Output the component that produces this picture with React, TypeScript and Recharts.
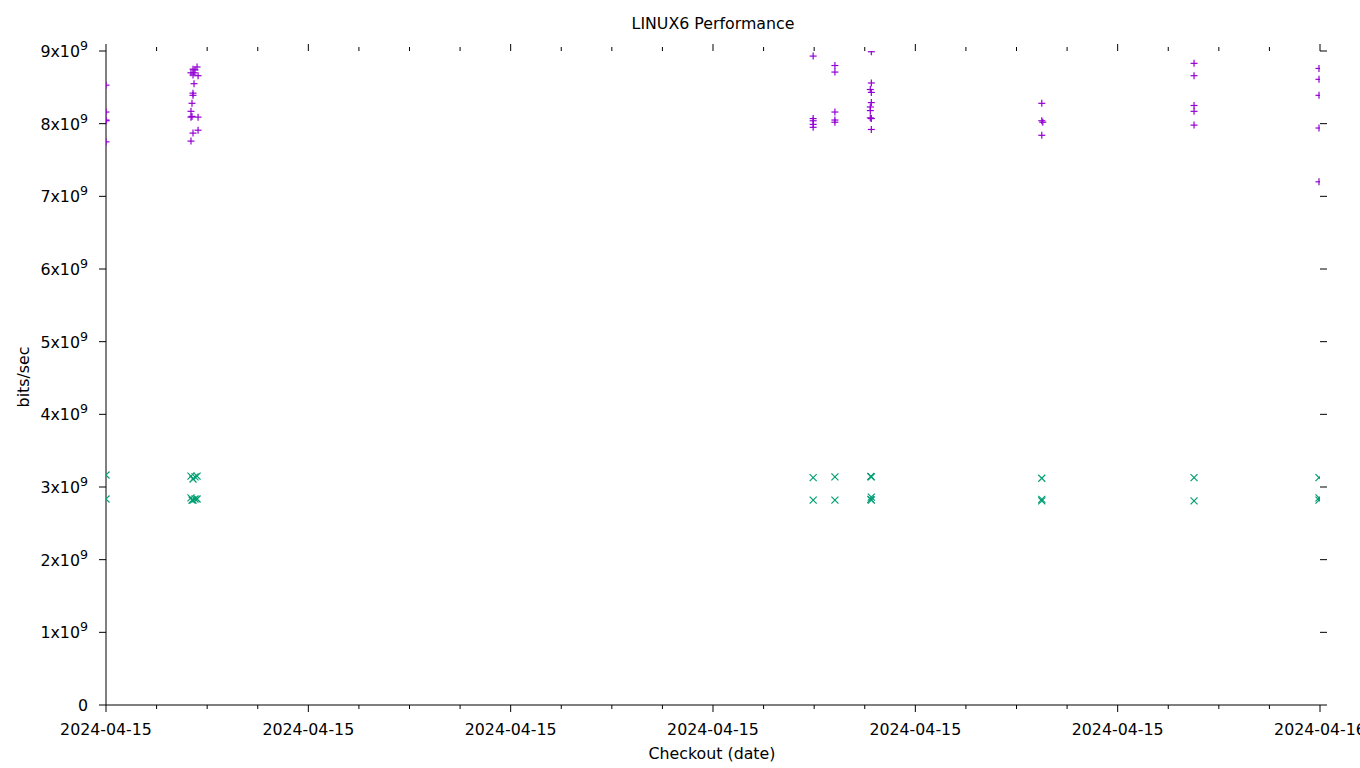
import React from "react";
import { ScatterChart, Scatter, XAxis, YAxis } from "recharts";

// hours after 2024-04-15 00:00
const hourTicks = [0, 1, 2, 3, 4, 5, 6, 7, 8, 9, 10, 11, 12, 13, 14, 15, 16, 17, 18, 19, 20, 21, 22, 23, 24];
const dateLabels: Record<number, string> = {
  0: "2024-04-15",
  4: "2024-04-15",
  8: "2024-04-15",
  12: "2024-04-15",
  16: "2024-04-15",
  20: "2024-04-15",
  24: "2024-04-16",
};
const rateTicks = [0, 1e9, 2e9, 3e9, 4e9, 5e9, 6e9, 7e9, 8e9, 9e9];

// "+" series (x10^9 bits/sec)
const plusHours = [
  0, 0, 0, 0, 0,
  1.8, 1.72, 1.76, 1.68, 1.74, 1.72, 1.82, 1.74, 1.72, 1.72, 1.7, 1.68, 1.68, 1.7, 1.82, 1.82, 1.72, 1.68,
  13.98, 13.98, 13.98, 13.98, 13.98,
  14.41, 14.41, 14.41, 14.41, 14.41,
  15.13, 15.13, 15.11, 15.13, 15.13, 15.11, 15.11, 15.11, 15.13, 15.13,
  18.5, 18.5, 18.52, 18.5,
  21.51, 21.51, 21.51, 21.51, 21.51,
  23.98, 23.98, 23.98, 23.98, 23.98,
];
const plusValues = [
  8.53, 8.16, 8.05, 8.04, 7.75,
  8.78, 8.75, 8.74, 8.7, 8.7, 8.67, 8.66, 8.55, 8.42, 8.39, 8.28, 8.17, 8.09, 8.1, 8.09, 7.91, 7.87, 7.76,
  8.93, 8.07, 8.04, 7.99, 7.95,
  8.8, 8.71, 8.16, 8.05, 8.02,
  8.99, 8.56, 8.47, 8.43, 8.29, 8.23, 8.18, 8.08, 8.07, 7.92,
  8.28, 8.04, 8.02, 7.84,
  8.83, 8.66, 8.25, 8.17, 7.98,
  8.76, 8.61, 8.39, 7.94, 7.2,
];

// "x" series (x10^9 bits/sec)
const crossHours = [
  0, 0,
  1.68, 1.72, 1.76, 1.8, 1.68, 1.72, 1.76, 1.8, 1.7,
  13.98, 13.98,
  14.41, 14.41,
  15.13, 15.12, 15.13, 15.12, 15.13,
  18.5, 18.5, 18.5,
  21.51, 21.51,
  23.98, 23.98, 23.98,
];
const crossValues = [
  3.165, 2.835,
  3.15, 3.11, 3.14, 3.15, 2.85, 2.82, 2.835, 2.835, 2.82,
  3.13, 2.82,
  3.14, 2.82,
  3.14, 3.145, 2.82, 2.83, 2.86,
  3.12, 2.81, 2.83,
  3.13, 2.81,
  3.13, 2.82, 2.85,
];

const plusData = plusHours.map((h, i) => ({ x: h, y: plusValues[i] * 1e9 }));
const crossData = crossHours.map((h, i) => ({ x: h, y: crossValues[i] * 1e9 }));

const FONT = "'DejaVu Sans', sans-serif";
const FS = 15.8;

const W = 1360;
const H = 768;
const MARGIN = { top: 51, right: 30, bottom: 33, left: 46 };
const X_AXIS_H = 30;
const PLOT_H = H - MARGIN.top - MARGIN.bottom - X_AXIS_H;

const PlusMark = (p: any) => (
  <g stroke="#9400d3" strokeWidth={1.2}>
    <line x1={p.cx - 3.5} x2={p.cx + 3.5} y1={p.cy} y2={p.cy} />
    <line x1={p.cx} x2={p.cx} y1={p.cy - 3.5} y2={p.cy + 3.5} />
  </g>
);

const CrossMark = (p: any) => (
  <g stroke="#009e73" strokeWidth={1.2}>
    <line x1={p.cx - 3.5} x2={p.cx + 3.5} y1={p.cy - 3.5} y2={p.cy + 3.5} />
    <line x1={p.cx - 3.5} x2={p.cx + 3.5} y1={p.cy + 3.5} y2={p.cy - 3.5} />
  </g>
);

// bottom ticks, plus the mirrored ticks along the (borderless) top edge
const BottomTick = ({ x, y, payload }: any) => {
  const major = payload.value % 4 === 0;
  const len = major ? 7 : 4;
  const top = y - PLOT_H;
  return (
    <g>
      <line x1={x} x2={x} y1={y} y2={y + len} stroke="#000" />
      <line x1={x} x2={x} y1={top} y2={top - len} stroke="#000" />
      {major && (
        <text x={x} y={y + 30} textAnchor="middle" fontFamily={FONT} fontSize={FS} fill="#000">
          {dateLabels[payload.value]}
        </text>
      )}
    </g>
  );
};

const LeftTick = ({ x, y, payload }: any) => {
  const n = Math.round(payload.value / 1e9);
  return (
    <g>
      <line x1={x - 7} x2={x} y1={y} y2={y} stroke="#000" />
      <text x={x - 18} y={y + 6} textAnchor="end" fontFamily={FONT} fontSize={FS} fill="#000">
        {n === 0 ? (
          "0"
        ) : (
          <>
            <tspan>{`${n}x10`}</tspan>
            <tspan dy={-7} fontSize={FS * 0.8}>9</tspan>
          </>
        )}
      </text>
    </g>
  );
};

const RightTick = ({ x, y }: any) => <line x1={x} x2={x + 7} y1={y} y2={y} stroke="#000" />;

const textStyle: React.CSSProperties = {
  position: "absolute",
  fontFamily: FONT,
  fontSize: FS,
  color: "#000",
  whiteSpace: "nowrap",
  lineHeight: 1,
};

export default function App() {
  return (
    <div style={{ position: "absolute", left: 0, top: 0, width: W, height: H, background: "#fff" }}>
      <ScatterChart width={W} height={H} margin={MARGIN}>
        <XAxis
          dataKey="x"
          type="number"
          domain={[0, 24]}
          ticks={hourTicks}
          interval={0}
          allowDataOverflow
          height={X_AXIS_H}
          tickSize={0}
          tickMargin={0}
          tickLine={false}
          axisLine={{ stroke: "#000" }}
          tick={BottomTick}
        />
        <YAxis
          yAxisId="left"
          dataKey="y"
          type="number"
          domain={[0, 9e9]}
          ticks={rateTicks}
          interval={0}
          allowDataOverflow
          width={60}
          tickSize={0}
          tickMargin={0}
          tickLine={false}
          axisLine={{ stroke: "#000" }}
          tick={LeftTick}
        />
        <YAxis
          yAxisId="right"
          orientation="right"
          type="number"
          domain={[0, 9e9]}
          ticks={rateTicks}
          interval={0}
          allowDataOverflow
          width={10}
          tickSize={0}
          tickMargin={0}
          tickLine={false}
          axisLine={false}
          tick={RightTick}
        />
        <Scatter yAxisId="left" data={plusData} shape={PlusMark} isAnimationActive={false} />
        <Scatter yAxisId="left" data={crossData} shape={CrossMark} isAnimationActive={false} />
      </ScatterChart>
      <div style={{ ...textStyle, left: 713, top: 24, transform: "translate(-50%, -50%)" }}>
        LINUX6 Performance
      </div>
      <div style={{ ...textStyle, left: 712, top: 754, transform: "translate(-50%, -50%)" }}>
        Checkout (date)
      </div>
      <div style={{ ...textStyle, left: 24, top: 377, transform: "translate(-50%, -50%) rotate(-90deg)" }}>
        bits/sec
      </div>
    </div>
  );
}
